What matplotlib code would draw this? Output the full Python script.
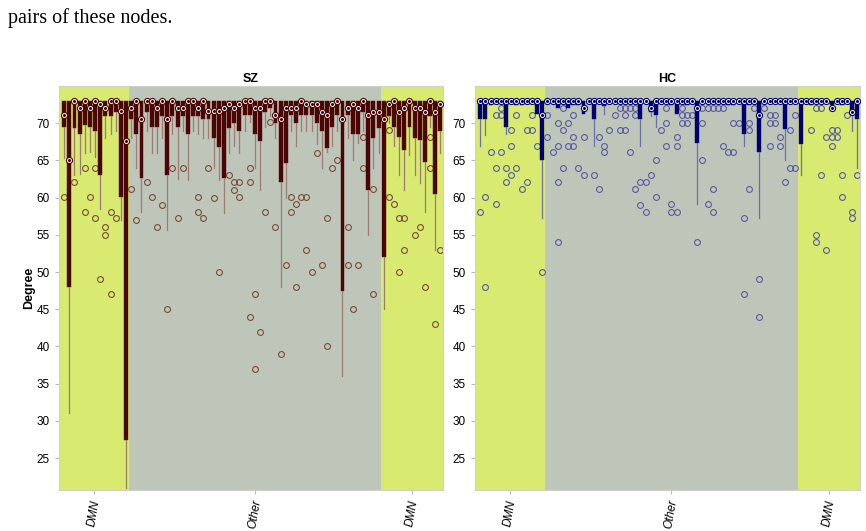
import matplotlib.pyplot as plt
import numpy as np

plt.rcParams['font.family'] = ['Liberation Sans', 'DejaVu Sans']

group_names = ['DMN', 'Other', 'DMN']
group_sizes = [13, 49, 12]
yticks = [25, 30, 35, 40, 45, 50, 55, 60, 65, 70]

# ---------------- SZ ----------------
sz_med = [71.1, 65.1, 73.0, 72.1, 73.0, 72.1, 73.0, 72.6, 72.1, 73.0,
          73.0, 71.6, 67.6, 72.1, 73.0, 70.6, 73.0, 73.0, 72.1, 73.0,
          70.6, 73.0, 72.1, 72.1, 73.0, 73.0, 72.1, 73.0, 71.6, 71.6,
          71.6, 72.1, 72.6, 72.1, 72.6, 73.0, 73.0, 72.1, 72.1, 73.0,
          73.0, 71.1, 70.6, 72.1, 72.1, 72.1, 73.0, 72.6, 72.6, 72.6,
          71.5, 71.1, 72.6, 73.0, 70.6, 72.1, 72.6, 72.1, 73.0, 71.1,
          71.5, 71.5, 70.6, 72.6, 73.0, 71.5, 72.1, 73.0, 72.1, 72.1,
          71.5, 73.0, 71.5, 72.6]
sz_q1 = [69.5, 48.0, 69.3, 68.6, 69.8, 69.5, 69.0, 63.0, 71.0, 71.0,
         71.5, 60.1, 27.4, 70.6, 68.6, 62.6, 71.5, 69.5, 69.5, 71.0,
         63.0, 71.0, 69.5, 71.0, 68.6, 71.0, 71.0, 70.5, 70.6, 68.0,
         66.8, 62.6, 69.3, 70.0, 69.0, 71.1, 71.1, 68.6, 67.6, 71.5,
         72.0, 70.0, 62.1, 64.6, 71.1, 70.0, 71.1, 71.1, 71.1, 70.0,
         69.0, 66.6, 69.5, 71.1, 47.5, 71.1, 68.6, 68.6, 71.5, 61.0,
         68.0, 69.3, 52.0, 71.0, 69.5, 68.2, 66.4, 69.5, 68.0, 67.7,
         64.8, 71.0, 60.5, 69.0]
sz_q3 = [73.0] * 74
sz_wlo = [65.3, 31.0, 63.0, 63.2, 66.0, 66.1, 65.5, 58.5, 68.0, 68.5,
          69.0, 57.0, 21.0, 68.0, 64.0, 58.0, 69.0, 66.0, 66.0, 68.0,
          55.6, 68.5, 62.5, 69.0, 62.3, 69.0, 68.5, 68.0, 68.0, 64.0,
          62.3, 57.9, 66.0, 67.0, 66.0, 69.0, 70.2, 64.0, 61.0, 69.5,
          71.0, 68.0, 48.0, 60.0, 69.0, 67.0, 69.0, 69.0, 69.0, 67.2,
          64.0, 66.1, 67.0, 69.0, 36.0, 68.0, 65.0, 67.3, 69.0, 55.0,
          64.0, 66.0, 45.0, 70.0, 67.0, 63.0, 61.0, 65.7, 63.0, 62.0,
          58.0, 69.5, 53.0, 66.0]
sz_out = [[60.1], [], [62.1], [], [64.0, 58.1], [60.1], [64.0, 57.2], [49.0], [56.1, 55.0], [58.0, 47.0],
          [57.2], [], [], [61.2], [57.0], [], [62.1], [60.1], [56.0], [59.0],
          [45.0], [64.0], [57.2], [64.0], [], [], [60.1, 58.1], [57.2], [64.0], [60.0],
          [50.0], [], [63.0], [62.1, 61.0], [62.1, 60.1], [], [62.1, 64.0, 44.0], [47.0, 37.0], [42.0], [58.0],
          [70.1], [56.0], [39.0], [51.0], [60.1, 58.0], [59.1, 48.0], [60.1], [60.1, 53.0], [50.0], [66.0],
          [51.0], [57.2, 40.0], [64.0], [65.0], [], [56.0, 51.0], [45.0], [51.0], [68.1, 64.0], [],
          [61.1, 47.0], [], [], [69.1, 60.1], [59.1], [57.2, 50.0], [57.2, 53.0], [], [55.0], [56.1],
          [48.0], [68.1, 64.0], [43.0], [53.0]]

# ---------------- HC ----------------
hc_med = [73.0, 73.0, 73.0, 73.0, 73.0, 73.0, 73.0, 73.0, 73.0, 73.0,
          73.0, 73.0, 71.1, 73.0, 73.0, 73.0, 73.0, 73.0, 73.0, 73.0,
          72.1, 73.0, 73.0, 73.0, 73.0, 73.0, 73.0, 73.0, 73.0, 73.0,
          73.0, 73.0, 73.0, 72.1, 73.0, 73.0, 73.0, 73.0, 73.0, 73.0,
          73.0, 73.0, 72.1, 73.0, 73.0, 73.0, 73.0, 73.0, 73.0, 73.0,
          73.0, 73.0, 73.0, 73.0, 71.1, 73.0, 73.0, 73.0, 73.0, 73.0,
          73.0, 73.0, 73.0, 73.0, 73.0, 73.0, 73.0, 73.0, 72.1, 73.0,
          73.0, 73.0, 71.5, 73.0]
hc_q1 = [70.6, 70.6, 72.4, 73.0, 73.0, 69.5, 73.0, 72.5, 72.5, 73.0,
         73.0, 71.3, 65.1, 73.0, 73.0, 72.1, 73.0, 72.1, 72.5, 72.5,
         71.3, 73.0, 70.6, 73.0, 72.3, 73.0, 73.0, 73.0, 73.0, 73.0,
         73.0, 70.6, 73.0, 71.5, 71.1, 73.0, 73.0, 72.5, 71.3, 73.0,
         72.5, 73.0, 67.4, 73.0, 73.0, 73.0, 73.0, 73.0, 72.5, 72.5,
         73.0, 68.6, 72.5, 73.0, 66.1, 73.0, 73.0, 73.0, 73.0, 69.2,
         73.0, 73.0, 67.2, 73.0, 72.5, 73.0, 73.0, 73.0, 72.5, 73.0,
         72.5, 73.0, 71.1, 70.6]
hc_q3 = [73.0] * 74
hc_wlo = [67.0, 68.4, 72.4, 73.0, 73.0, 68.5, 73.0, 72.5, 72.5, 73.0,
          73.0, 71.3, 57.2, 73.0, 73.0, 72.1, 73.0, 72.1, 72.5, 72.5,
          71.3, 73.0, 67.0, 73.0, 71.2, 73.0, 73.0, 73.0, 73.0, 73.0,
          73.0, 67.0, 73.0, 71.0, 69.5, 73.0, 73.0, 72.5, 71.3, 73.0,
          72.5, 73.0, 59.1, 73.0, 73.0, 73.0, 73.0, 73.0, 72.5, 72.5,
          73.0, 67.0, 72.5, 73.0, 57.2, 73.0, 73.0, 73.0, 73.0, 65.0,
          73.0, 73.0, 63.0, 73.0, 72.5, 73.0, 73.0, 73.0, 72.5, 73.0,
          72.5, 73.0, 69.0, 64.0]
hc_out = [[58.1], [60.1, 48.0], [66.1], [71.1, 64.0, 59.1], [72.1, 71.1, 66.1],
          [64.0, 62.1], [69.1, 67.0, 63.0], [71.1, 64.0], [61.1], [69.1, 62.1],
          [71.1, 69.1], [67.0], [50.0], [71.1, 68.1], [66.1],
          [70.0, 67.0, 62.1, 54.0], [72.1, 69.1, 64.0], [70.0, 67.0], [71.1, 68.1, 67.0], [64.0],
          [68.1, 63.0], [], [63.0], [68.1, 61.1], [67.0, 66.1],
          [69.1], [71.1], [72.1, 69.1], [72.1, 71.1, 69.1], [72.1, 66.1],
          [72.1, 71.1, 61.1], [62.1, 59.0], [62.1, 58.0], [63.0], [65.1, 60.1],
          [69.1], [72.1, 70.0, 67.0], [59.1, 58.1], [68.1, 67.0, 58.1], [72.1, 71.1, 70.0],
          [71.1, 70.0], [71.1], [54.0], [72.1, 70.0, 65.1], [72.1, 59.1],
          [72.1, 61.1, 58.0], [72.1], [72.1, 67.0], [66.1], [70.0, 66.1],
          [70.0], [57.2, 47.0], [70.0, 69.1, 61.1], [72.1], [49.0, 44.0],
          [72.1], [71.1, 70.0, 67.0], [71.1, 70.0], [68.1, 67.0], [62.1],
          [69.1, 64.0], [71.1, 64.0], [], [], [69.1],
          [72.1, 55.0, 54.0], [72.1, 63.0], [68.1, 53.0], [69.1, 68.1, 67.0], [69.1, 68.1],
          [63.0, 60.1], [71.1], [58.1, 57.2], [63.0]]

col_yellow = '#d8ea6f'
col_grey = '#bec6ba'


def draw_panel(ax, title, med, q1, q3, wlo, outs, box_col, whisk_col, out_col):
    n = len(med)
    pos = np.arange(1, n + 1)
    edges = np.cumsum([0] + group_sizes) + 0.5
    edges[0] = -1
    edges[-1] = n + 2
    cols = [col_yellow, col_grey, col_yellow]
    for k in range(3):
        ax.axvspan(edges[k], edges[k + 1], color=cols[k], zorder=0, lw=0)
    stats = []
    for i in range(n):
        stats.append(dict(med=med[i], q1=q1[i], q3=q3[i], whislo=wlo[i],
                          whishi=q3[i], fliers=np.array(outs[i], dtype=float)))
    ax.bxp(stats, positions=pos, widths=0.76, patch_artist=True, showcaps=False,
           boxprops=dict(facecolor=box_col, edgecolor=box_col, lw=0.3),
           whiskerprops=dict(color=whisk_col, lw=0.9),
           medianprops=dict(lw=0),
           flierprops=dict(marker='o', markerfacecolor='none', markeredgecolor=out_col,
                           markersize=4.2, markeredgewidth=0.8))
    ax.plot(pos, med, ls='none', marker='o', markersize=4.4, markerfacecolor='white',
            markeredgecolor=box_col, markeredgewidth=0.8, zorder=5)
    ax.plot(pos, med, ls='none', marker='o', markersize=1.2, markerfacecolor=box_col,
            markeredgecolor=box_col, zorder=6)
    ax.set_xlim(0, n + 0.5)
    ax.set_ylim(20.7, 75)
    centers = [(max(edges[k], 0) + min(edges[k + 1], n + 0.5)) / 2 for k in range(3)]
    ax.set_xticks(centers)
    ax.set_xticklabels(group_names, rotation=80, fontstyle='italic', fontsize=8.5)
    ax.set_yticks(yticks)
    ax.tick_params(axis='y', labelsize=8.5, length=3, color='#bbbbbb')
    ax.tick_params(axis='x', length=3, color='#bbbbbb')
    for s in ax.spines.values():
        s.set_color('#d0d0d0')
        s.set_linewidth(0.8)
    ax.set_title(title, fontsize=9, fontweight='bold', pad=3)


fig = plt.figure(figsize=(8.66, 5.31), dpi=100)
ax1 = fig.add_axes([59 / 866, 1 - 490 / 531, 384 / 866, 404 / 531])
ax2 = fig.add_axes([475 / 866, 1 - 490 / 531, 385 / 866, 404 / 531])

draw_panel(ax1, 'SZ', sz_med, sz_q1, sz_q3, sz_wlo, sz_out, '#4b0505', '#9b7d72', '#7a4a3a')
draw_panel(ax2, 'HC', hc_med, hc_q1, hc_q3, hc_wlo, hc_out, '#00006e', '#6e6ea8', '#5a5aa0')
ax1.set_ylabel('Degree', fontsize=9, fontweight='bold', labelpad=1)

fig.text(8 / 866, 1 - 18 / 531, 'pairs of these nodes.', family='Liberation Serif',
         fontsize=14.5, va='center', ha='left')

fig.savefig('out.png', dpi=100)
